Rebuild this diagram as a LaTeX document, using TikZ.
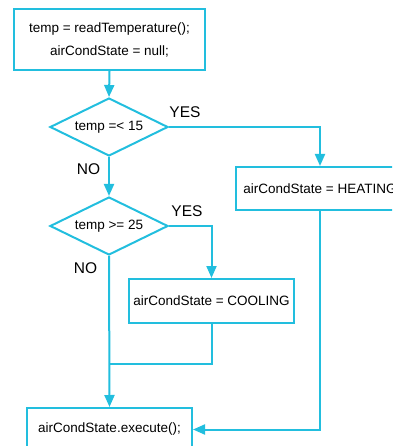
\documentclass[tikz,border=0pt]{standalone}
\usepackage{fontspec}
\setmainfont{Liberation Sans}
\usetikzlibrary{shapes.geometric,arrows.meta}
\definecolor{flow}{RGB}{34,190,222}
\begin{document}
\begin{tikzpicture}[x=1pt,y=-1pt,
  box/.style={draw=flow,line width=2pt,rectangle,inner sep=0pt,align=center,
    font=\fontsize{13.5}{23}\selectfont},
  dia/.style={draw=flow,line width=2pt,diamond,aspect=2,inner sep=0pt,
    minimum width=118pt,minimum height=58pt,font=\fontsize{13.5}{16}\selectfont},
  lbl/.style={font=\fontsize{15.5}{18}\selectfont,inner sep=0pt},
  conn/.style={draw=flow,line width=2pt},
  arr/.style={conn,-{Triangle[length=12pt,width=10pt]}}]
\useasboundingbox (0,0) rectangle (392,446);
\clip (0,0) rectangle (392,446);
\node[box,minimum width=191pt,minimum height=61pt] (init) at (109.5,39.5)
  {temp = readTemperature();\\airCondState = null;};
\node[dia] (d1) at (109,127) {temp =< 15};
\node[dia] (d2) at (109,226) {temp >= 25};
\node[box,minimum width=168pt,minimum height=43pt] (heat) at (320,188.5)
  {airCondState = HEATING};
\node[box,minimum width=165pt,minimum height=44pt] (cool) at (211.5,301)
  {airCondState = COOLING};
\node[box,minimum width=165pt,minimum height=43pt] (exec) at (109.5,429.5)
  {airCondState.execute();};
\coordinate (join) at (109,364);
\node[lbl] (yes1) at (185,112) {YES};
\node[lbl] (no1) at (88.5,169) {NO};
\node[lbl] (yes2) at (187,211) {YES};
\node[lbl] (no2) at (85.5,268) {NO};
\draw[arr] (init.south) -- (d1.north);
\draw[arr] (d1.east) -| (heat.north);
\draw[arr] (d1.south) -- (d2.north);
\draw[arr] (d2.east) -| (cool.north);
\draw[arr] (d2.south) -- (exec.north);
\draw[conn] (cool.south) |- (join);
\draw[arr] (heat.south) |- (exec.east);
\end{tikzpicture}
\end{document}
